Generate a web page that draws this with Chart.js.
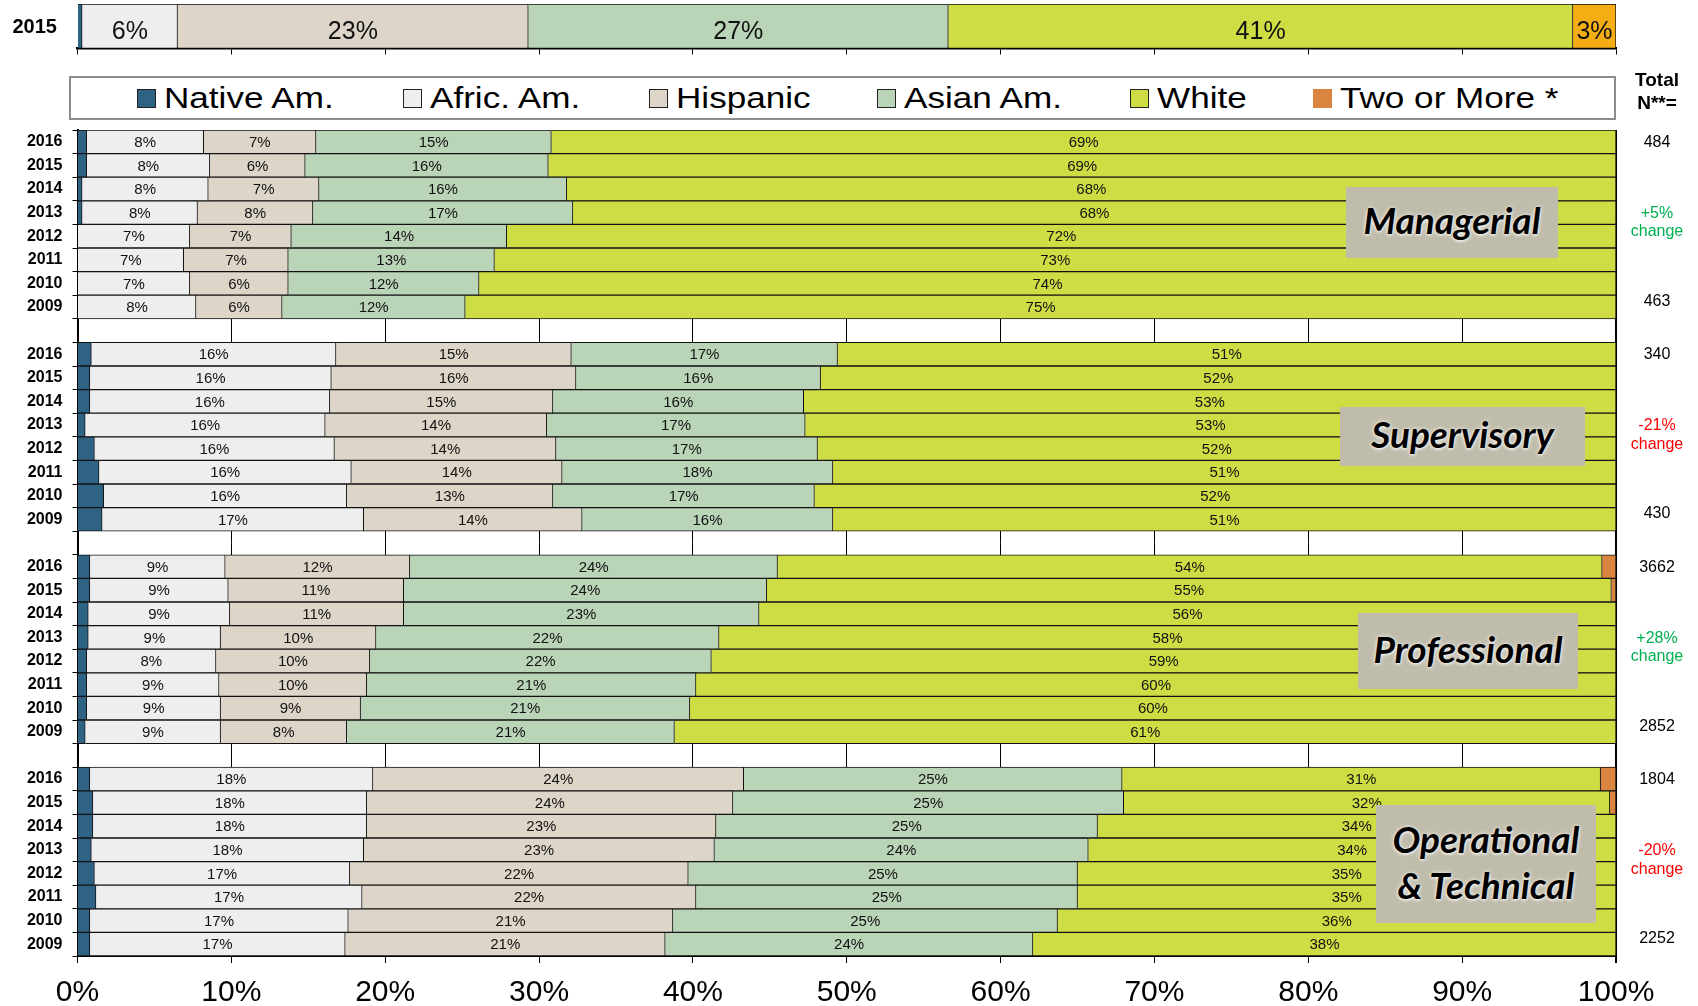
<!DOCTYPE html>
<html>
<head>
<meta charset="utf-8">
<script src="https://cdn.jsdelivr.net/npm/chart.js@4.4.1/dist/chart.umd.min.js"></script>
<style>
  html, body { margin: 0; padding: 0; background: #fff; }
  body { width: 1698px; height: 1006px; position: relative; overflow: hidden;
         font-family: "Liberation Sans", Arial, sans-serif; color: #000; }
  canvas { position: absolute; left: 0; top: 0; }
  #legend { position: absolute; left: 69px; top: 76px; width: 1543px; height: 40px;
            border: 2px solid #8c8c8c; background: #fff; }
  .lg-item { position: absolute; top: 0; height: 40px; display: flex; align-items: center; white-space: nowrap; }
  .lg-sq { width: 17px; height: 17px; border: 1.5px solid #222; margin-right: 8px; }
  .lg-tx { font-size: 30px; display: inline-block; transform: scaleX(1.17); transform-origin: left center; line-height: 40px; }
  .rc { position: absolute; width: 80px; left: 1617px; text-align: center; font-size: 16px; line-height: 18px; }
  .hdr { position: absolute; width: 80px; left: 1617px; text-align: center; font-size: 19px; font-weight: bold; line-height: 22px; }
  #topYear { position: absolute; left: 0; width: 57px; top: 14px; text-align: right; font-size: 20px; font-weight: bold; line-height: 24px; }
  .box { position: absolute; background: #c0bcab; display: flex; align-items: center; justify-content: center;
         box-sizing: border-box; padding-bottom: 5px;
         text-align: center; font-family: Lato, "Open Sans", sans-serif; font-style: italic; font-weight: bold;
         font-size: 37px; line-height: 46px; color: #000;
         text-shadow: 0 1px 3px rgba(255,255,255,0.9), 0 0 5px rgba(255,255,255,0.7); }
</style>
</head>
<body>
<canvas id="topChart" width="1698" height="60"></canvas>
<canvas id="mainChart" width="1698" height="1006"></canvas>
<div id="topYear"></div>
<div id="legend"></div>
<div class="hdr" style="top:69px;">Total</div>
<div class="hdr" style="top:92px;">N**=</div>
<div id="overlay"></div>
<script>
// ---------------- DATA ----------------
const SERIES = ['Native Am.', 'Afric. Am.', 'Hispanic', 'Asian Am.', 'White', 'Two or More *'];
const YEARS = ['2016', '2015', '2014', '2013', '2012', '2011', '2010', '2009'];
const GROUPS = ['Managerial', 'Supervisory', 'Professional', 'Operational\n& Technical'];

// Top summary bar (2015)
const topLabel = ['2015'];
const topNative = [0.3];
const topAfric  = [6.2];
const topHisp   = [22.8];
const topAsian  = [27.3];
const topWhite  = [40.6];
const topTwo    = [2.8];

// Managerial
const manNative = [0.6, 0.6, 0.3, 0.3, 0, 0, 0, 0];
const manAfric  = [7.6, 8.0, 8.2, 7.5, 7.3, 6.9, 7.3, 7.7];
const manHisp   = [7.3, 6.2, 7.2, 7.5, 6.6, 6.8, 6.4, 5.6];
const manAsian  = [15.3, 15.8, 16.1, 16.9, 14.0, 13.4, 12.4, 11.9];
const manWhite  = [69.2, 69.4, 68.2, 67.8, 72.1, 72.9, 73.9, 74.8];
const manTwo    = [0, 0, 0, 0, 0, 0, 0, 0];

// Supervisory
const supNative = [0.9, 0.8, 0.8, 0.5, 1.1, 1.4, 1.7, 1.6];
const supAfric  = [15.9, 15.7, 15.6, 15.6, 15.6, 16.4, 15.8, 17.0];
const supHisp   = [15.3, 15.9, 14.5, 14.4, 14.4, 13.7, 13.4, 14.2];
const supAsian  = [17.3, 15.9, 16.3, 16.8, 17.0, 17.6, 17.0, 16.3];
const supWhite  = [50.6, 51.7, 52.8, 52.7, 51.9, 50.9, 52.1, 50.9];
const supTwo    = [0, 0, 0, 0, 0, 0, 0, 0];

// Professional
const proNative = [0.8, 0.8, 0.7, 0.7, 0.6, 0.6, 0.6, 0.5];
const proAfric  = [8.8, 9.0, 9.2, 8.6, 8.4, 8.6, 8.7, 8.8];
const proHisp   = [12.0, 11.4, 11.3, 10.1, 10.0, 9.6, 9.1, 8.2];
const proAsian  = [23.9, 23.6, 23.1, 22.3, 22.2, 21.4, 21.4, 21.3];
const proWhite  = [53.6, 54.9, 55.7, 58.3, 58.8, 59.8, 60.2, 61.2];
const proTwo    = [0.9, 0.3, 0, 0, 0, 0, 0, 0];

// Operational & Technical
const opNative = [0.8, 1.0, 1.0, 0.9, 1.1, 1.2, 0.8, 0.8];
const opAfric  = [18.4, 17.8, 17.8, 17.7, 16.6, 17.3, 16.8, 16.6];
const opHisp   = [24.1, 23.8, 22.7, 22.8, 22.0, 21.7, 21.1, 20.8];
const opAsian  = [24.6, 25.4, 24.8, 24.3, 25.3, 24.8, 25.0, 23.9];
const opWhite  = [31.1, 31.6, 33.7, 34.3, 35.0, 35.0, 36.3, 37.9];
const opTwo    = [1.0, 0.4, 0, 0, 0, 0, 0, 0];

// Right column
const totalsNew = ['484', '340', '3662', '1804'];
const totalsOld = ['463', '430', '2852', '2252'];
const changes   = ['+5%', '-21%', '+28%', '-20%'];

// X axis ticks
const xTicks = [0, 10, 20, 30, 40, 50, 60, 70, 80, 90, 100];

// ---------------- STYLE ----------------
const COLORS = ['#2f6383', '#eeeeee', '#ddd5c8', '#b9d4b6', '#cfdd45', '#d9843f'];
const TOP_COLORS = ['#2f6383', '#eeeeee', '#ddd5c8', '#b9d4b6', '#cfdd45', '#f5ad14'];
const CHANGE_COLORS = ['#00b050', '#ff0000', '#00b050', '#ff0000'];

Chart.defaults.font.family = "'Liberation Sans', Arial, sans-serif";

// ---------------- BUILD ROWS ----------------
const groupSeries = [
  [manNative, manAfric, manHisp, manAsian, manWhite, manTwo],
  [supNative, supAfric, supHisp, supAsian, supWhite, supTwo],
  [proNative, proAfric, proHisp, proAsian, proWhite, proTwo],
  [opNative, opAfric, opHisp, opAsian, opWhite, opTwo]
];
const rowLabels = [];
const seriesRows = SERIES.map(() => []);
groupSeries.forEach((gs, g) => {
  YEARS.forEach((yr, i) => {
    rowLabels.push(yr);
    gs.forEach((arr, s) => seriesRows[s].push(arr[i] === 0 ? null : arr[i]));
  });
  if (g < groupSeries.length - 1) {
    rowLabels.push('');
    seriesRows.forEach(r => r.push(null));
  }
});

// ---------------- LABEL PLUGIN ----------------
const segLabels = {
  id: 'segLabels',
  afterDatasetsDraw(chart, args, opts) {
    const ctx = chart.ctx;
    ctx.save();
    ctx.font = opts.font;
    ctx.fillStyle = opts.color;
    ctx.textAlign = 'center';
    ctx.textBaseline = 'middle';
    chart.data.datasets.forEach((ds, di) => {
      if (opts.skip.includes(di)) return;
      const meta = chart.getDatasetMeta(di);
      meta.data.forEach((el, i) => {
        const v = ds.data[i];
        if (v == null) return;
        const p = el.getProps(['x', 'base', 'y'], true);
        ctx.fillText(Math.round(v) + '%', (p.x + p.base) / 2, p.y + opts.dy);
      });
    });
    ctx.restore();
  }
};

// ---------------- TOP CHART ----------------
document.getElementById('topYear').textContent = topLabel[0];
const topData = [topNative, topAfric, topHisp, topAsian, topWhite, topTwo];
new Chart(document.getElementById('topChart'), {
  type: 'bar',
  data: {
    labels: topLabel,
    datasets: SERIES.map((name, s) => ({
      label: name, data: topData[s], backgroundColor: TOP_COLORS[s],
      borderColor: '#111', borderWidth: 1, barPercentage: 1, categoryPercentage: 1
    }))
  },
  options: {
    indexAxis: 'y', responsive: false, animation: false,
    layout: { padding: { top: 4, right: 82, left: 77.5, bottom: 0 } },
    plugins: {
      legend: { display: false }, tooltip: { enabled: false },
      segLabels: { font: "25px 'Liberation Sans', Arial, sans-serif", color: '#111', skip: [0], dy: 6 }
    },
    scales: {
      x: {
        stacked: true, min: 0, max: 100,
        afterBuildTicks: (s) => { s.ticks = xTicks.map(v => ({ value: v })); },
        ticks: { display: false },
        grid: { drawOnChartArea: false, tickLength: 6, color: '#000' },
        border: { color: '#000', width: 2.5 },
        afterFit: (s) => { s.height = 11.5; }
      },
      y: { stacked: true, display: false }
    }
  },
  plugins: [segLabels]
});

// ---------------- MAIN CHART ----------------
const mainChart = new Chart(document.getElementById('mainChart'), {
  type: 'bar',
  data: {
    labels: rowLabels,
    datasets: SERIES.map((name, s) => ({
      label: name, data: seriesRows[s], backgroundColor: COLORS[s],
      borderColor: '#111', borderWidth: 1, barPercentage: 1, categoryPercentage: 1
    }))
  },
  options: {
    indexAxis: 'y', responsive: false, animation: false,
    layout: { padding: { top: 130, right: 82, left: 0, bottom: 0 } },
    plugins: {
      legend: { display: false }, tooltip: { enabled: false },
      segLabels: { font: "15px 'Liberation Sans', Arial, sans-serif", color: '#111', skip: [0, 5], dy: 1 }
    },
    scales: {
      x: {
        stacked: true, min: 0, max: 100,
        afterBuildTicks: (s) => { s.ticks = xTicks.map(v => ({ value: v })); },
        ticks: { callback: (v) => v + '%', font: { size: 30 }, color: '#000', padding: 12, maxRotation: 0 },
        grid: { color: '#000', lineWidth: (c) => (c.tick && c.tick.value === 100 ? 2 : 1), tickLength: 7 },
        border: { color: '#000', width: 2 },
        afterFit: (s) => { s.height = 50; }
      },
      y: {
        stacked: true,
        ticks: { font: { size: 16, weight: 'bold' }, color: '#000', padding: 10, autoSkip: false },
        grid: { drawOnChartArea: false, color: '#000', tickLength: 5, offset: true },
        border: { color: '#000', width: 2 },
        afterFit: (s) => { s.width = 77.5; }
      }
    }
  },
  plugins: [segLabels]
});

// ---------------- LEGEND (HTML) ----------------
const legendX = [66, 332, 578, 806, 1059, 1242];
const legend = document.getElementById('legend');
SERIES.forEach((name, s) => {
  const it = document.createElement('div');
  it.className = 'lg-item';
  it.style.left = legendX[s] + 'px';
  const sq = document.createElement('div');
  sq.className = 'lg-sq';
  sq.style.background = COLORS[s];
  if (s === 5) sq.style.border = '1.5px solid ' + COLORS[s];
  const tx = document.createElement('span');
  tx.className = 'lg-tx';
  tx.textContent = name;
  it.appendChild(sq); it.appendChild(tx);
  legend.appendChild(it);
});

// ---------------- RIGHT COLUMN + GROUP BOXES ----------------
const overlay = document.getElementById('overlay');
const yScale = mainChart.scales.y;
function addText(txt, cy, color) {
  const d = document.createElement('div');
  d.className = 'rc';
  d.style.top = (cy - 9) + 'px';
  d.style.color = color || '#000';
  d.textContent = txt;
  overlay.appendChild(d);
}
GROUPS.forEach((g, gi) => {
  const y0 = yScale.getPixelForValue(gi * 9);
  addText(totalsNew[gi], y0, '#000');
  addText(changes[gi], y0 + 71, CHANGE_COLORS[gi]);
  addText('change', y0 + 89.5, CHANGE_COLORS[gi]);
  addText(totalsOld[gi], y0 + 159, '#000');
});

const boxRects = [
  [1346, 187, 212, 71],
  [1340, 407, 245, 59],
  [1358, 613, 220, 76],
  [1376, 805, 220, 118]
];
GROUPS.forEach((g, gi) => {
  const b = document.createElement('div');
  b.className = 'box';
  const r = boxRects[gi];
  b.style.left = r[0] + 'px'; b.style.top = r[1] + 'px';
  b.style.width = r[2] + 'px'; b.style.height = r[3] + 'px';
  b.innerHTML = g.split('\n').map(t => t.replace('&', '&amp;')).join('<br>');
  overlay.appendChild(b);
});
</script>
</body>
</html>
